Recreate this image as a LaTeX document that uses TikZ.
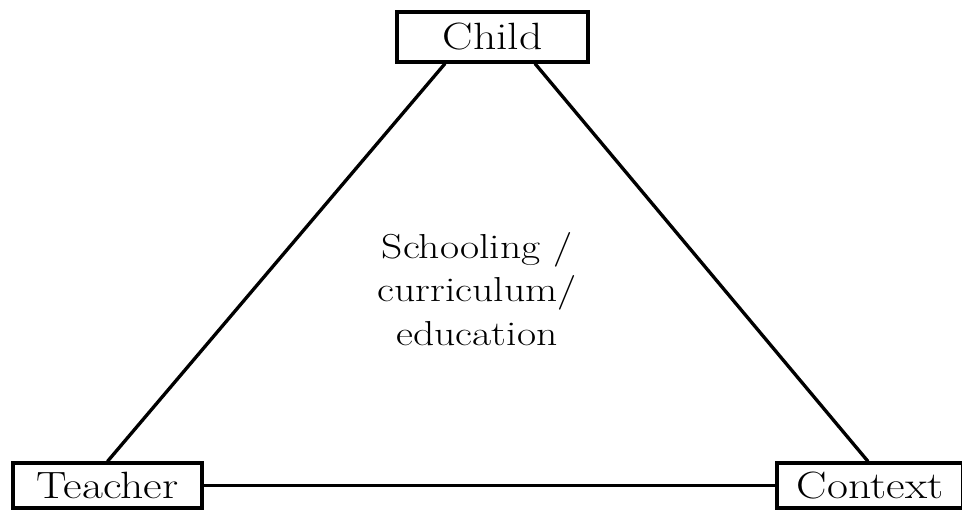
\documentclass[tikz,border=0pt]{standalone}
\usepackage{graphicx}
\newcommand\wide[1]{\scalebox{1.2}[1]{#1}}
\tikzset{
  lbl/.style={font=\fontsize{26}{32.5}\selectfont},
  boxlbl/.style={font=\fontsize{28.5}{32}\selectfont},
  box/.style={draw, line width=2.4pt, inner sep=0pt, boxlbl},
  link/.style={line width=2.5pt}
}
\begin{document}
\begin{tikzpicture}[x=0.75pt,y=-0.75pt]
\useasboundingbox (0,0) rectangle (962,510);
\clip (0,0) rectangle (962,510);
\node[box, minimum width=191*0.75pt, minimum height=50*0.75pt] (child) at (492.5,37) {\wide{Child}};
\node[box, minimum width=189*0.75pt, minimum height=45*0.75pt] (teacher) at (107.5,485.5) {\wide{Teacher}};
\node[box, minimum width=186*0.75pt, minimum height=45*0.75pt] (context) at (870,485.5) {\wide{Context}};
\node[lbl, align=center] (mid) at (477,289) {\wide{Schooling /}\\\wide{curriculum/}\\\wide{education}};
\draw[link] ([xshift=-47.5*0.75pt]child.south) -- (teacher.north);
\draw[link] ([xshift=42.5*0.75pt]child.south) -- ([xshift=-2*0.75pt]context.north);
\draw[link] (teacher.east) -- (context.west);
\end{tikzpicture}
\end{document}
